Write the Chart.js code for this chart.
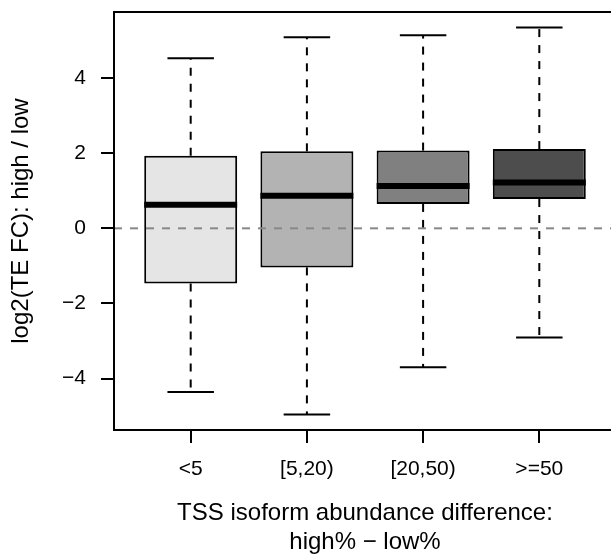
<!DOCTYPE html>
<html>
<head>
<meta charset="utf-8">
<title>log2(TE FC) by TSS isoform abundance difference</title>
<script src="https://cdn.jsdelivr.net/npm/chart.js@4.4.1/dist/chart.umd.min.js"></script>
<style>
  html, body { margin: 0; padding: 0; background: #fff; overflow: hidden; }
  #wrap { width: 616px; height: 557px; }
</style>
</head>
<body>
<div id="wrap"><canvas id="boxChart" width="616" height="557"></canvas></div>
<script>
// groups on the x axis (high% - low%)
const groups = ["<5", "[5,20)", "[20,50)", ">=50"];

// five-number summaries of log2(TE FC) per group
const lowerWhisker = [-4.36, -4.96, -3.7, -2.91];
const lowerQuartile = [-1.47, -1.04, 0.65, 0.78];
const medians = [0.63, 0.87, 1.13, 1.22];
const upperQuartile = [1.93, 2.05, 2.07, 2.11];
const upperWhisker = [4.53, 5.09, 5.14, 5.35];

const yTicks = [-4, -2, 0, 2, 4];

const boxColors = ["#e5e5e5", "#b3b3b3", "#808080", "#4d4d4d"];
const FONT = "'Liberation Sans', Arial, Helvetica, sans-serif";

const ctx = document.getElementById("boxChart");

function line(c, x1, y1, x2, y2) {
  c.beginPath();
  c.moveTo(x1, y1);
  c.lineTo(x2, y2);
  c.stroke();
}

// whiskers, staples, medians, the zero reference line and the plot frame
const boxplotExtras = {
  id: "boxplotExtras",
  afterDatasetsDraw(chart) {
    const c = chart.ctx;
    const area = chart.chartArea;
    const y = chart.scales.y;
    const meta = chart.getDatasetMeta(0);

    c.save();
    c.strokeStyle = "#000";
    c.lineCap = "butt";

    meta.data.forEach((bar, i) => {
      const cx = bar.x;
      const half = bar.width / 2;

      c.lineWidth = 2;
      c.setLineDash([8, 8]);
      line(c, cx, y.getPixelForValue(upperQuartile[i]), cx, y.getPixelForValue(upperWhisker[i]));
      line(c, cx, y.getPixelForValue(lowerQuartile[i]), cx, y.getPixelForValue(lowerWhisker[i]));

      c.setLineDash([]);
      line(c, cx - half / 2, y.getPixelForValue(upperWhisker[i]), cx + half / 2, y.getPixelForValue(upperWhisker[i]));
      line(c, cx - half / 2, y.getPixelForValue(lowerWhisker[i]), cx + half / 2, y.getPixelForValue(lowerWhisker[i]));

      c.lineWidth = 6;
      line(c, cx - half, y.getPixelForValue(medians[i]), cx + half, y.getPixelForValue(medians[i]));
    });

    // abline(h = 0, lty = 2, col = "grey")
    const y0 = y.getPixelForValue(0);
    c.strokeStyle = "#888";
    c.lineWidth = 2;
    c.setLineDash([8, 8]);
    line(c, area.left, y0, area.right, y0);

    c.setLineDash([]);
    c.strokeStyle = "#000";
    c.lineWidth = 2;
    c.strokeRect(area.left, area.top, area.right - area.left, area.bottom - area.top);
    c.restore();
  },
};

function plotChart(boxes) {
  new Chart(ctx, {
    type: "bar",
    data: {
      datasets: [
        {
          data: boxes,
          backgroundColor: boxColors,
          borderColor: "#000",
          borderWidth: 2,
          borderSkipped: false,
          categoryPercentage: 1,
          barPercentage: 0.8,
        },
      ],
    },
    options: {
      responsive: false,
      animation: false,
      layout: {
        autoPadding: false,
        padding: { left: 7, top: 12, right: 0, bottom: 0 },
      },
      plugins: {
        legend: { display: false },
        tooltip: { enabled: false },
      },
      scales: {
        x: {
          type: "linear",
          min: 0.34,
          max: 4.66,
          offset: false,
          afterBuildTicks: (scale) => {
            scale.ticks = groups.map((g, i) => ({ value: i + 1 }));
          },
          afterFit: (scale) => {
            scale.height = 127;
            scale.paddingLeft = 0;
            scale.paddingRight = 0;
          },
          ticks: {
            callback: (value, index) => groups[index],
            color: "#000",
            padding: 14,
            maxRotation: 0,
            autoSkip: false,
            font: { family: FONT, size: 21 },
          },
          grid: {
            offset: false,
            drawOnChartArea: false,
            tickLength: 13,
            color: "#000",
            lineWidth: 2,
          },
          border: { display: false },
          title: {
            display: true,
            text: ["TSS isoform abundance difference:", "high% \u2212 low%"],
            color: "#000",
            padding: { top: 0, bottom: 0 },
            font: { family: FONT, size: 24, lineHeight: 1.2 },
          },
        },
        y: {
          min: -5.37,
          max: 5.76,
          afterBuildTicks: (scale) => {
            scale.ticks = yTicks.map((v) => ({ value: v }));
          },
          afterFit: (scale) => {
            scale.width = 107;
            scale.paddingTop = 0;
            scale.paddingBottom = 0;
          },
          ticks: {
            callback: (value) => (value < 0 ? "\u2212" + Math.abs(value) : String(value)),
            color: "#000",
            padding: 15,
            font: { family: FONT, size: 21 },
          },
          grid: {
            drawOnChartArea: false,
            tickLength: 13,
            color: "#000",
            lineWidth: 2,
          },
          border: { display: false },
          title: {
            display: true,
            text: "log2(TE FC): high / low",
            color: "#000",
            padding: { top: 0, bottom: 0 },
            font: { family: FONT, size: 24, lineHeight: 1.2 },
          },
        },
      },
    },
    plugins: [boxplotExtras],
  });
}

(function main() {
  const boxes = groups.map((g, i) => ({
    x: i + 1,
    y: [lowerQuartile[i], upperQuartile[i]],
  }));

  plotChart(boxes);
})();
</script>
</body>
</html>
